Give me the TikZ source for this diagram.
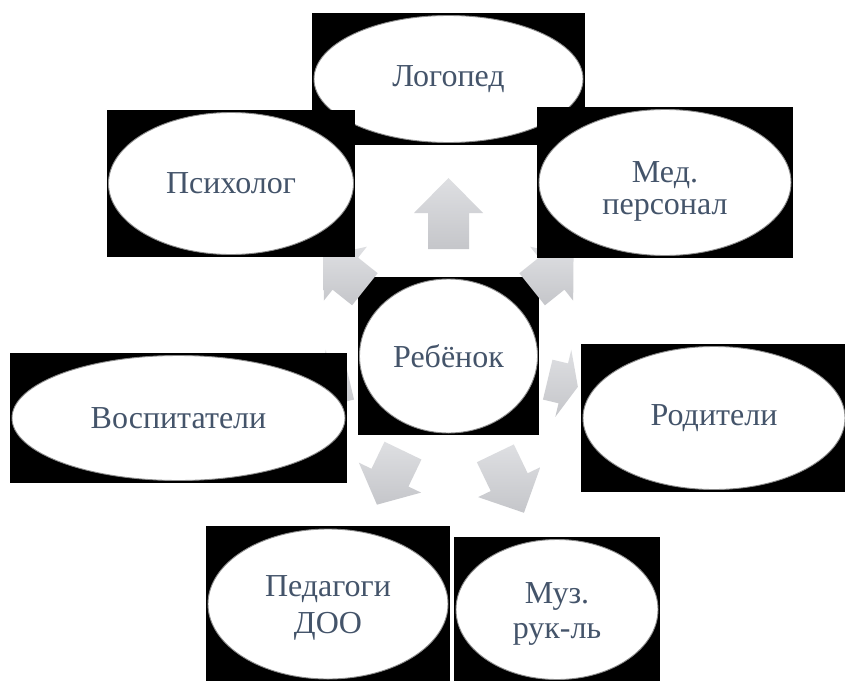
\documentclass[tikz,border=0pt]{standalone}
\usepackage{fontspec}
\setmainfont{Liberation Serif}
\usetikzlibrary{shapes.geometric,calc}
\definecolor{txt}{HTML}{44546A}
\definecolor{arrtop}{RGB}{222,223,226}
\definecolor{arrbot}{RGB}{197,198,202}
\definecolor{rim}{RGB}{140,140,140}
% #1 visual angle, #2 tail radius, #3 head-base radius, #4 tip radius
\newcommand{\radarrow}[4]{%
  \path[arrowfill]
    ($(child.center)+(-#1:#2)+(-#1+90:20.5)$) --
    ($(child.center)+(-#1:#3)+(-#1+90:20.5)$) --
    ($(child.center)+(-#1:#3)+(-#1+90:34.5)$) --
    ($(child.center)+(-#1:#4)$) --
    ($(child.center)+(-#1:#3)+(-#1-90:34.5)$) --
    ($(child.center)+(-#1:#3)+(-#1-90:20.5)$) --
    ($(child.center)+(-#1:#2)+(-#1-90:20.5)$) -- cycle;}
\begin{document}
\begin{tikzpicture}[x=1pt,y=-1pt,
  boxstyle/.style={rectangle, fill=black, draw=none, inner sep=0pt, outer sep=0pt},
  ellstyle/.style={ellipse, fill=white, draw=rim, line width=0.9pt, inner sep=0pt,
    text=txt, align=center, font=\fontsize{32}{36}\selectfont},
  arrowfill/.style={top color=arrtop, bottom color=arrbot, draw=none}]
\useasboundingbox (0,0) rectangle (845,680);
\fill[white] (0,0) rectangle (845,680);

% Логопед
\node[boxstyle, minimum width=273pt, minimum height=132pt] (logobox) at (448.5,79) {};
\node[ellstyle, minimum width=269pt, minimum height=127pt] (logo) at (logobox.center) {Логопед};

% Ребёнок
\node[boxstyle, minimum width=181pt, minimum height=158pt] (childbox) at (448.5,356) {};
\node[ellstyle, minimum width=178pt, minimum height=154pt] (child) at (childbox.center) {Ребёнок};

% arrows
\radarrow{90}{107}{143}{178}
\radarrow{141.4}{107}{132}{160}
\radarrow{38.6}{107}{132}{160}
\radarrow{346.6}{102}{118}{133}
\radarrow{193.4}{102}{118}{133}
\radarrow{244.3}{105}{135}{165}
\radarrow{295.7}{108}{140}{174}

% Психолог
\node[boxstyle, minimum width=248pt, minimum height=147pt] (psybox) at (231,183.5) {};
\node[ellstyle, minimum width=245pt, minimum height=142pt] (psy) at (psybox.center) {Психолог};

% Мед. персонал
\node[boxstyle, minimum width=256pt, minimum height=151pt] (medbox) at (665,182.5) {};
\node[ellstyle, minimum width=252pt, minimum height=146pt, font=\fontsize{32}{32}\selectfont] (med) at (medbox.center) {\rule{0pt}{39pt}Мед.\\персонал};

% Воспитатели
\node[boxstyle, minimum width=337pt, minimum height=130pt] (vospbox) at (178.5,418) {};
\node[ellstyle, minimum width=333pt, minimum height=125pt] (vosp) at (vospbox.center) {Воспитатели};

% Родители
\node[boxstyle, minimum width=266pt, minimum height=148pt] (rodbox) at (714,418) {};
\node[ellstyle, minimum width=262pt, minimum height=143pt] (rod) at (rodbox.center) {Родители};

% Педагоги ДОО
\node[boxstyle, minimum width=244pt, minimum height=156pt] (pedbox) at (328,604) {};
\node[ellstyle, minimum width=240pt, minimum height=150pt, font=\fontsize{32}{36.7}\selectfont] (ped) at (pedbox.center) {\rule{0pt}{29pt}Педагоги\\ДОО};

% Муз. рук-ль
\node[boxstyle, minimum width=206pt, minimum height=145pt] (muzbox) at (557,609.5) {};
\node[ellstyle, minimum width=202pt, minimum height=140pt, font=\fontsize{32}{35}\selectfont] (muz) at (muzbox.center) {\rule{0pt}{29pt}Муз.\\рук-ль};
\end{tikzpicture}
\end{document}
